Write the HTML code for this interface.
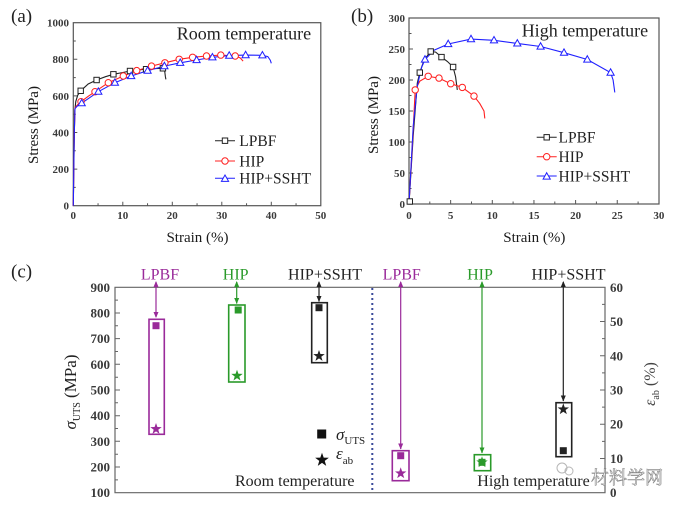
<!DOCTYPE html>
<html><head><meta charset="utf-8"><style>
html,body{margin:0;padding:0;background:#fff;}
svg{display:block;}
text{font-family:"Liberation Serif","Noto Serif CJK SC",serif;}
</style></head><body>
<svg width="676" height="506" viewBox="0 0 676 506" xmlns="http://www.w3.org/2000/svg">
<defs>
<rect id="sq" x="-2.7" y="-2.7" width="5.4" height="5.4" fill="#fff" stroke="#222" stroke-width="1"/>
<circle id="ci" r="3.2" fill="#fff" stroke="#ff2020" stroke-width="1"/>
<polygon id="tr" points="0,-3.8 3.6,2.6 -3.6,2.6" fill="#fff" stroke="#2020ff" stroke-width="1"/>
<polygon id="st" points="0,-6 1.41,-1.94 5.71,-1.85 2.28,0.74 3.53,4.85 0,2.4 -3.53,4.85 -2.28,0.74 -5.71,-1.85 -1.41,-1.94"/>
</defs>
<rect width="676" height="506" fill="#fff"/>

<!-- ================= Panel (a) ================= -->
<text x="11" y="22" font-size="19" fill="#222">(a)</text>
<rect x="73.3" y="22.7" width="247.5" height="183" fill="none" stroke="#555" stroke-width="1.2"/>
<g stroke="#555" stroke-width="1">
<path d="M73.3 205.7v-4M122.8 205.7v-4M172.3 205.7v-4M221.8 205.7v-4M271.3 205.7v-4M98.05 205.7v-2.5M147.55 205.7v-2.5M197.05 205.7v-2.5M246.55 205.7v-2.5M296.05 205.7v-2.5"/>
<path d="M73.3 169.1h4M73.3 132.5h4M73.3 95.9h4M73.3 59.3h4M73.3 187.4h2.5M73.3 150.8h2.5M73.3 114.2h2.5M73.3 77.6h2.5M73.3 41h2.5"/>
</g>
<g font-size="11" font-weight="bold" fill="#3a3a3a" text-anchor="end">
<text x="69" y="209.5">0</text><text x="69" y="173">200</text><text x="69" y="136.4">400</text><text x="69" y="99.8">600</text><text x="69" y="63.2">800</text><text x="69" y="26.6">1000</text>
</g>
<g font-size="11" font-weight="bold" fill="#3a3a3a" text-anchor="middle">
<text x="73.3" y="219">0</text><text x="122.8" y="219">10</text><text x="172.3" y="219">20</text><text x="221.8" y="219">30</text><text x="271.3" y="219">40</text><text x="320.8" y="219">50</text>
</g>
<text x="197.5" y="242" font-size="15" fill="#1a1a1a" text-anchor="middle">Strain (%)</text>
<text transform="translate(38,125) rotate(-90)" font-size="15" fill="#1a1a1a" text-anchor="middle">Stress (MPa)</text>
<text x="176.7" y="39.3" font-size="18" fill="#222">Room temperature</text>

<polyline fill="none" stroke="#222" stroke-width="1.1" points="73.3,205.7 74,150.8 74.8,110.5 75.8,101.4 77.8,95 80.7,90.8 88.2,84 96.6,80 105.5,76.7 113.4,74.3 122.8,72.5 130,71 137.7,69.9 146.1,69.2 155,68.6 162.9,68.3 164.4,68.8 165.4,76.7 165.9,79.4"/>
<polyline fill="none" stroke="#ff2020" stroke-width="1.1" points="73.3,205.7 74.3,132.5 75,107.8 77.3,105 81,101.7 88.2,96.3 95,91.7 108.3,82.7 123.3,76 136.7,70.6 151.5,66.1 164.9,62.8 179.2,59.3 192.6,57.3 206.5,56 220.8,55.1 235.2,56 240.1,57.8 243.1,61.1"/>
<polyline fill="none" stroke="#2020ff" stroke-width="1.1" points="73.3,205.7 74.3,132.5 75,108.7 77.3,106 81.7,103.2 98.3,91.7 114.9,82.7 131.2,76 147.6,70.7 164.4,66.1 180.2,62.8 196.6,60 212.4,57.3 229.2,55.6 245.6,55.1 262.4,55.3 267.8,56.6 270.3,60.2 271.3,63.3"/>
<g>
<use href="#sq" x="80.7" y="90.8"/><use href="#sq" x="96.6" y="80"/><use href="#sq" x="113.4" y="74.3"/><use href="#sq" x="130" y="71"/><use href="#sq" x="146.1" y="69.2"/><use href="#sq" x="162.9" y="68.3"/>
<use href="#ci" x="81" y="101.7"/><use href="#ci" x="95" y="91.7"/><use href="#ci" x="108.3" y="82.7"/><use href="#ci" x="123.3" y="76"/><use href="#ci" x="136.7" y="70.6"/><use href="#ci" x="151.5" y="66.1"/><use href="#ci" x="164.9" y="62.8"/><use href="#ci" x="179.2" y="59.3"/><use href="#ci" x="192.6" y="57.3"/><use href="#ci" x="206.5" y="56"/><use href="#ci" x="220.8" y="55.1"/><use href="#ci" x="235.2" y="56"/>
<use href="#tr" x="81.7" y="103.2"/><use href="#tr" x="98.3" y="91.7"/><use href="#tr" x="114.9" y="82.7"/><use href="#tr" x="131.2" y="76"/><use href="#tr" x="147.6" y="70.7"/><use href="#tr" x="164.4" y="66.1"/><use href="#tr" x="180.2" y="62.8"/><use href="#tr" x="196.6" y="60"/><use href="#tr" x="212.4" y="57.3"/><use href="#tr" x="229.2" y="55.6"/><use href="#tr" x="245.6" y="55.1"/><use href="#tr" x="262.4" y="55.3"/>
</g>
<!-- legend a -->
<path d="M215 140.7h20" stroke="#222" stroke-width="1"/><use href="#sq" x="225" y="140.7"/>
<path d="M215 161h20" stroke="#ff2020" stroke-width="1"/><use href="#ci" x="225" y="161"/>
<path d="M215 178.3h20" stroke="#2020ff" stroke-width="1"/><use href="#tr" x="225" y="178.8"/>
<g font-size="15.5" fill="#222">
<text x="239.3" y="146">LPBF</text><text x="239.3" y="166.3">HIP</text><text x="239.3" y="183.6">HIP+SSHT</text>
</g>

<!-- ================= Panel (b) ================= -->
<text x="351" y="22" font-size="19" fill="#222">(b)</text>
<rect x="409" y="18" width="250" height="186" fill="none" stroke="#555" stroke-width="1.2"/>
<g stroke="#555" stroke-width="1">
<path d="M450.65 204v-4M492.3 204v-4M533.95 204v-4M575.6 204v-4M617.25 204v-4M429.8 204v-2.5M471.5 204v-2.5M513.1 204v-2.5M554.8 204v-2.5M596.4 204v-2.5M638.1 204v-2.5"/>
<path d="M409 173h4M409 142h4M409 111h4M409 80h4M409 49h4M409 188.5h2.5M409 157.5h2.5M409 126.5h2.5M409 95.5h2.5M409 64.5h2.5M409 33.5h2.5"/>
</g>
<g font-size="11" font-weight="bold" fill="#3a3a3a" text-anchor="end">
<text x="405" y="208">0</text><text x="405" y="177">50</text><text x="405" y="146">100</text><text x="405" y="115">150</text><text x="405" y="84">200</text><text x="405" y="53">250</text><text x="405" y="22">300</text>
</g>
<g font-size="11" font-weight="bold" fill="#3a3a3a" text-anchor="middle">
<text x="409" y="219">0</text><text x="450.65" y="219">5</text><text x="492.3" y="219">10</text><text x="533.95" y="219">15</text><text x="575.6" y="219">20</text><text x="617.25" y="219">25</text><text x="658.9" y="219">30</text>
</g>
<text x="534.3" y="242" font-size="15" fill="#1a1a1a" text-anchor="middle">Strain (%)</text>
<text transform="translate(378,115) rotate(-90)" font-size="15" fill="#1a1a1a" text-anchor="middle">Stress (MPa)</text>
<text x="521.7" y="36.7" font-size="18" fill="#222">High temperature</text>

<polyline fill="none" stroke="#222" stroke-width="1.1" points="409,204 413.2,135.8 417.3,83.1 419.8,72.6 424,60.2 430.7,51.5 435.7,52.1 441.5,57.1 447.3,61.4 453.1,67 455.6,76.9 457.3,89.9"/>
<polyline fill="none" stroke="#ff2020" stroke-width="1.1" points="409,204 413.2,129.6 415.2,89.9 419.8,81.2 428.2,76.3 439,78.1 450.7,83.7 462.3,87.4 474,96.1 479.8,103.6 484,111 484.8,118.4"/>
<polyline fill="none" stroke="#2020ff" stroke-width="1.1" points="409,204 413.2,126.5 417.3,86.2 421.5,67.6 425,59.5 434,50.2 448.2,44 471,39.1 494,40.3 517.3,43.4 540.6,46.5 564,52.7 587.3,59.5 610.6,72.6 613.1,80 614.8,92.4"/>
<g>
<use href="#sq" x="409.8" y="201.5"/><use href="#sq" x="419.8" y="72.6"/><use href="#sq" x="430.7" y="51.5"/><use href="#sq" x="441.5" y="57.1"/><use href="#sq" x="453.1" y="67"/>
<use href="#ci" x="415.2" y="89.9"/><use href="#ci" x="428.2" y="76.3"/><use href="#ci" x="439" y="78.1"/><use href="#ci" x="450.7" y="83.7"/><use href="#ci" x="462.3" y="87.4"/><use href="#ci" x="474" y="96.1"/>
<use href="#tr" x="425" y="59.5"/><use href="#tr" x="448.2" y="44"/><use href="#tr" x="471" y="39.1"/><use href="#tr" x="494" y="40.3"/><use href="#tr" x="517.3" y="43.4"/><use href="#tr" x="540.6" y="46.5"/><use href="#tr" x="564" y="52.7"/><use href="#tr" x="587.3" y="59.5"/><use href="#tr" x="610.6" y="72.6"/>
</g>
<path d="M536.7 137.3h20" stroke="#222" stroke-width="1"/><use href="#sq" x="546.7" y="137.3"/>
<path d="M536.7 156.7h20" stroke="#ff2020" stroke-width="1"/><use href="#ci" x="546.7" y="156.7"/>
<path d="M536.7 176h20" stroke="#2020ff" stroke-width="1"/><use href="#tr" x="546.7" y="176.5"/>
<g font-size="15.5" fill="#222">
<text x="558.5" y="142.6">LPBF</text><text x="558.5" y="162">HIP</text><text x="558.5" y="181.3">HIP+SSHT</text>
</g>

<!-- ================= Panel (c) ================= -->
<text x="11" y="277.5" font-size="19" fill="#222">(c)</text>
<g stroke="#666" stroke-width="1.2" fill="none">
<path d="M115 287.3H605V492.7H115Z"/>
</g>
<g stroke="#666" stroke-width="1">
<path d="M115 313h5M115 338.6h5M115 364.3h5M115 390h5M115 415.7h5M115 441.3h5M115 467h5M115 300.1h3M115 325.8h3M115 351.5h3M115 377.2h3M115 402.8h3M115 428.5h3M115 454.2h3M115 479.9h3"/>
<path d="M605 321.5h-5M605 355.8h-5M605 390h-5M605 424.2h-5M605 458.5h-5M605 304.4h-3M605 338.6h-3M605 372.9h-3M605 407.1h-3M605 441.4h-3M605 475.6h-3"/>
</g>
<g font-size="13" font-weight="bold" fill="#3a3a3a" text-anchor="end">
<text x="110" y="291.8">900</text><text x="110" y="317.5">800</text><text x="110" y="343.1">700</text><text x="110" y="368.8">600</text><text x="110" y="394.5">500</text><text x="110" y="420.2">400</text><text x="110" y="445.8">300</text><text x="110" y="471.5">200</text><text x="110" y="497.2">100</text>
</g>
<g font-size="13" font-weight="bold" fill="#3a3a3a">
<text x="610" y="291.8">60</text><text x="610" y="326">50</text><text x="610" y="360.3">40</text><text x="610" y="394.5">30</text><text x="610" y="428.7">20</text><text x="610" y="463">10</text><text x="610" y="497.2">0</text>
</g>
<text transform="translate(76,392) rotate(-90)" font-size="17" fill="#222" text-anchor="middle"><tspan font-style="italic">σ</tspan><tspan font-size="10" dy="4">UTS</tspan><tspan dy="-4"> (MPa)</tspan></text>
<text transform="translate(655,384) rotate(-90)" font-size="16" fill="#444" text-anchor="middle"><tspan font-style="italic">ε</tspan><tspan font-size="10" dy="4">ab</tspan><tspan dy="-4"> (%)</tspan></text>

<path d="M372.3 288V492" stroke="#3a4a9a" stroke-width="2" stroke-dasharray="2,3"/>

<!-- top labels -->
<g font-size="16" text-anchor="middle">
<text x="160" y="279.5" fill="#9a2a9a">LPBF</text>
<text x="235.7" y="279.5" fill="#2a9a2a">HIP</text>
<text x="325" y="279.5" fill="#222">HIP+SSHT</text>
<text x="401.7" y="279.5" fill="#9a2a9a">LPBF</text>
<text x="480" y="279.5" fill="#2a9a2a">HIP</text>
<text x="568.5" y="279.5" fill="#222">HIP+SSHT</text>
</g>

<!-- arrows -->
<g stroke-width="1.2">
<path d="M156 282V317" stroke="#9a2a9a"/><path d="M153.5 312l2.5 6 2.5-6z M153.5 287l2.5-6 2.5 6z" fill="#9a2a9a" stroke="none"/>
<path d="M236.7 282V303.5" stroke="#2a9a2a"/><path d="M234.2 298l2.5 6 2.5-6z M234.2 287l2.5-6 2.5 6z" fill="#2a9a2a" stroke="none"/>
<path d="M319 282V301.5" stroke="#222"/><path d="M316.5 296l2.5 6 2.5-6z M316.5 287l2.5-6 2.5 6z" fill="#222" stroke="none"/>
<path d="M400.7 282V449" stroke="#9a2a9a"/><path d="M398.2 443.5l2.5 6 2.5-6z M398.2 287l2.5-6 2.5 6z" fill="#9a2a9a" stroke="none"/>
<path d="M482 282V453" stroke="#2a9a2a"/><path d="M479.5 447.5l2.5 6 2.5-6z M479.5 287l2.5-6 2.5 6z" fill="#2a9a2a" stroke="none"/>
<path d="M563.3 282V401" stroke="#222"/><path d="M560.8 395.5l2.5 6 2.5-6z M560.8 287l2.5-6 2.5 6z" fill="#222" stroke="none"/>
</g>

<!-- boxes -->
<g fill="none" stroke-width="1.6">
<rect x="149" y="319.3" width="15.3" height="115" stroke="#9a2a9a"/>
<rect x="228.7" y="305" width="16.3" height="77" stroke="#2a9a2a"/>
<rect x="311.7" y="302.7" width="15.6" height="60" stroke="#222"/>
<rect x="392.3" y="450.7" width="16.7" height="30" stroke="#9a2a9a"/>
<rect x="474.3" y="454.7" width="16.4" height="16" stroke="#2a9a2a"/>
<rect x="556" y="402.7" width="15.7" height="54" stroke="#222"/>
</g>
<!-- squares and stars -->
<rect x="152.5" y="322.2" width="7" height="7" fill="#9a2a9a"/>
<use href="#st" transform="translate(156,429)" fill="#9a2a9a"/>
<rect x="234.7" y="306.5" width="7" height="7" fill="#2a9a2a"/>
<use href="#st" transform="translate(237,375.7)" fill="#2a9a2a"/>
<rect x="315.5" y="304.2" width="7" height="7" fill="#222"/>
<use href="#st" transform="translate(319,356)" fill="#222"/>
<rect x="397.2" y="452.2" width="7" height="7" fill="#9a2a9a"/>
<use href="#st" transform="translate(400.7,473.3)" fill="#9a2a9a"/>
<rect x="478.5" y="458.8" width="7" height="7" fill="#2a9a2a"/>
<use href="#st" transform="translate(482,462.3)" fill="#2a9a2a"/>
<use href="#st" transform="translate(563.3,409.3)" fill="#222"/>
<rect x="559.8" y="447.2" width="7" height="7" fill="#222"/>

<!-- legend c -->
<rect x="317.2" y="429.5" width="9" height="9" fill="#111"/>
<use href="#st" transform="translate(322,460) scale(1.2)" fill="#111"/>
<text x="336" y="440" font-size="17" fill="#222"><tspan font-style="italic">σ</tspan><tspan font-size="11" dy="4">UTS</tspan></text>
<text x="336" y="459" font-size="17" fill="#222"><tspan font-style="italic">ε</tspan><tspan font-size="11" dy="5">ab</tspan></text>

<text x="235" y="486" font-size="16" fill="#222">Room temperature</text>
<text x="477.3" y="486" font-size="16" fill="#222">High temperature</text>

<!-- watermark -->
<g opacity="0.85">
<circle cx="562" cy="468" r="5" fill="none" stroke="#aaa" stroke-width="1"/>
<circle cx="569" cy="471" r="4" fill="none" stroke="#aaa" stroke-width="1"/>
<text x="591" y="484" font-size="18" fill="#f4f4f4" stroke="#777" stroke-width="0.6" font-family="'Noto Sans CJK SC',sans-serif">材料学网</text>
</g>
</svg>
</body></html>
